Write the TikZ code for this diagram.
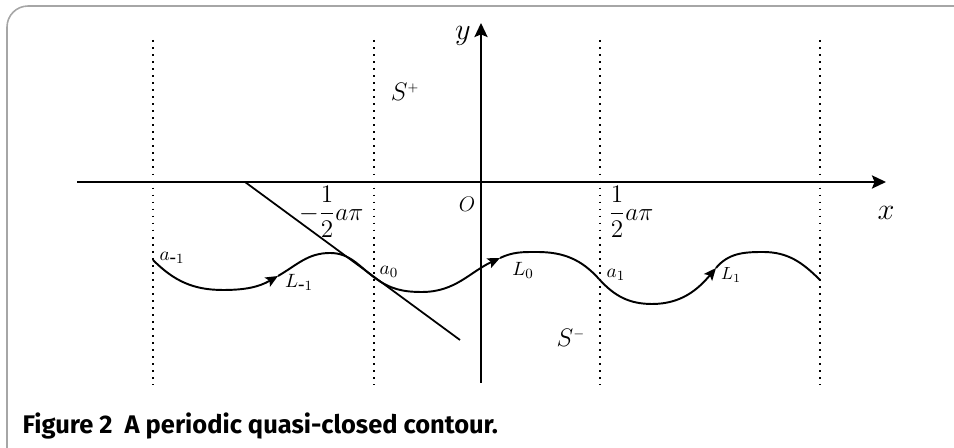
\documentclass[tikz,border=0pt]{standalone}
\usepackage{fontspec}
\setmainfont{Liberation Serif}
\newfontfamily\capfont{Fira Sans}
\usetikzlibrary{arrows.meta,positioning,calc}
\tikzset{every picture/.style={line width=0.75pt}}
\tikzset{
    axis/.style={line width=1.1pt, -{Stealth[length=8pt,width=7.5pt,inset=1.5pt]}},
    wave/.style={line width=1.1pt},
    wavearrow/.style={line width=1.1pt, -{Stealth[length=7pt,width=6pt,inset=1.5pt]}},
    guide/.style={line width=1pt, dash pattern=on 1pt off 3pt},
    lbl/.style={inner sep=0pt, font=\fontsize{11}{12}\selectfont},
    frac/.style={inner sep=0pt, font=\fontsize{15}{16}\selectfont},
}

\begin{document}
\begin{tikzpicture}[x=0.02cm, y=0.02cm, >=stealth]
    \useasboundingbox (0,0) rectangle (954,448);

    % --- 外框 ---
    \draw[gray!70, line width=0.9pt, rounded corners=12] (7,-20) -- (7,442) -- (980,442);

    % --- 虚线 (周期边界) ---
    \foreach \xx in {153, 374, 600, 820} {
        \draw[guide] (\xx,408) -- (\xx,63);
    }

    % --- 坐标轴 ---
    \coordinate (xl) at (77,266);
    \coordinate (xr) at (886,266);
    \coordinate (yb) at (481,65);
    \coordinate (yt) at (481,425);
    \draw[axis] (xl) -- (xr);
    \draw[axis] (yb) -- (yt);

    % 斜线
    \coordinate (d1) at (245,266);
    \coordinate (d2) at (460,108);
    \draw[line width=1pt] (d1) -- (d2);

    % --- 曲线各点 ---
    \coordinate (am1) at (153,188);
    \coordinate (m1) at (223,158);
    \coordinate (p1) at (278,172);
    \coordinate (t1) at (330,195);
    \coordinate (a0) at (375,170);
    \coordinate (m2) at (422,156);
    \coordinate (p2) at (500,190);
    \coordinate (t2) at (537,196);
    \coordinate (a1) at (599,169);
    \coordinate (m3) at (652,144);
    \coordinate (p3) at (716,180);
    \coordinate (t3) at (763,196);
    \coordinate (a2) at (820,168);

    % L_{-1}
    \draw[wavearrow] (am1) to[out=-45, in=180] (m1) to[out=0, in=210] (p1);
    \draw[wave] (p1) to[out=30, in=180] (t1) to[out=0, in=144] (a0);
    % L_0
    \draw[wavearrow] (a0) to[out=-36, in=180] (m2) to[out=0, in=205] (p2);
    \draw[wave] (p2) to[out=25, in=180] (t2) to[out=0, in=132] (a1);
    % L_1
    \draw[wavearrow] (a1) to[out=-48, in=180] (m3) to[out=0, in=230] (p3);
    \draw[wave] (p3) to[out=50, in=180] (t3) to[out=0, in=135] (a2);

    % --- 标注 ---
    \node[font=\fontsize{17}{18}\selectfont] (ylab) at (463,412) {$y$};
    \node[font=\fontsize{17}{18}\selectfont] (xlab) at (886,235) {$x$};
    \node[font=\fontsize{12}{13}\selectfont] (olab) at (467,244) {$O$};
    \node[font=\fontsize{15}{16}\selectfont] (spl) at (405,356) {$S^{\scriptscriptstyle +}$};
    \node[font=\fontsize{15}{16}\selectfont] (smi) at (571,110) {$S^{\scriptscriptstyle -}$};
    \node[frac, anchor=east] (nhalf) at (364,236) {$\displaystyle -\frac{1}{2}a\pi$};
    \node[frac, anchor=west] (phalf) at (608,236) {$\displaystyle \frac{1}{2}a\pi$};

    \node[lbl] (lam1) at (172,190) {$a_{\mbox{-}1}$};
    \node[lbl] (lLm1) at (299,166) {$L_{\mbox{-}1}$};
    \node[lbl] (la0) at (389,176) {$a_0$};
    \node[lbl] (lL0) at (523,178) {$L_0$};
    \node[lbl] (la1) at (616,173) {$a_1$};
    \node[lbl, font=\fontsize{10}{11}\selectfont] (lL1) at (731,173) {$L_1$};

    % --- 图题 ---
    \node[anchor=west, inner sep=0pt, font=\capfont\bfseries\fontsize{14.5}{16}\selectfont] (cap) at (22,22)
        {Figure 2\ \ A periodic quasi-closed contour.};

\end{tikzpicture}
\end{document}
